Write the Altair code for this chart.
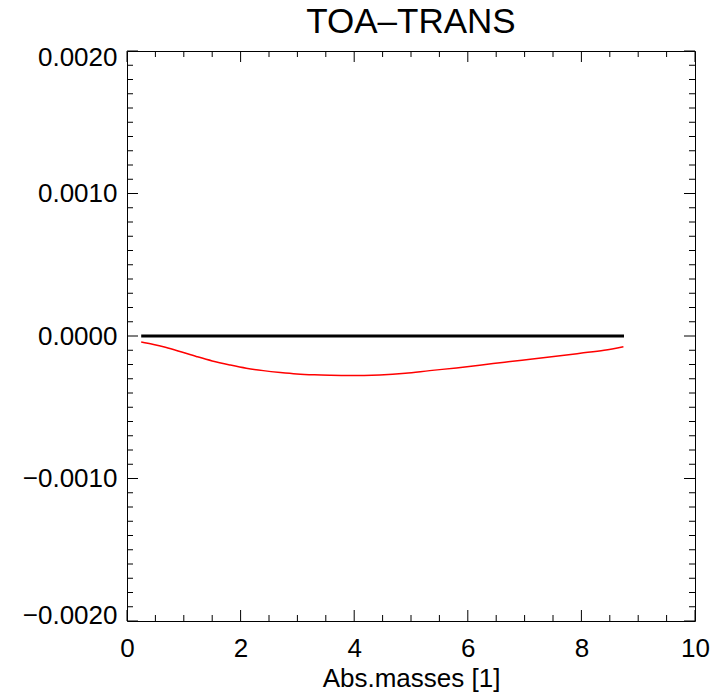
import altair as alt
import pandas as pd

# Top-of-atmosphere transmission difference versus absorber mass
abs_mass = [0.25, 0.45, 0.64, 0.9, 1.23, 1.5, 1.81, 2.1, 2.40, 2.7, 2.99,
            3.3, 3.57, 3.9, 4.45, 4.9, 5.33, 5.8, 6.21, 6.65, 7.1, 7.55,
            7.98, 8.4, 8.74]
toa_trans = [-0.000042, -0.000058, -0.000075, -0.000105, -0.000145,
             -0.000175, -0.000203, -0.000226, -0.000243, -0.000256,
             -0.000266, -0.000272, -0.000275, -0.000277, -0.000273,
             -0.000262, -0.000243, -0.000224, -0.000205, -0.000184,
             -0.000163, -0.000142, -0.000121, -0.000100, -0.000075]

# Reference (zero) line over the same mass range
zero_x = [0.25, 8.75]
zero_y = [0.0, 0.0]

x_major = [0, 2, 4, 6, 8, 10]
x_minor = [0.5, 1, 1.5, 2.5, 3, 3.5, 4.5, 5, 5.5, 6.5, 7, 7.5, 8.5, 9, 9.5]
y_major = [-0.002, -0.001, 0.0, 0.001, 0.002]
y_minor = [round(-0.002 + 0.0001 * i, 4) for i in range(41)
           if i % 10 != 0]

W, H = 568, 570
MAJ, MIN = 11, 6
FONT = "Liberation Sans"

xs = alt.Scale(domain=[0, 10], nice=False, zero=False)
ys = alt.Scale(domain=[-0.002, 0.002], nice=False, zero=False)

curve = pd.DataFrame({"mass": abs_mass, "diff": toa_trans})
zero = pd.DataFrame({"mass": zero_x, "diff": zero_y})

x_axis = alt.Axis(values=x_major, format="d", ticks=False, domain=False,
                  grid=False, labelFont=FONT, labelFontSize=26,
                  labelColor="black", labelPadding=14, labelFlush=False,
                  title="Abs.masses [1]", titleFont=FONT, titleFontSize=26,
                  titleFontWeight="normal", titleColor="black",
                  titlePadding=4)
y_axis = alt.Axis(values=y_major, format=".4f", ticks=False, domain=False,
                  grid=False, labelFont=FONT, labelFontSize=26,
                  labelColor="black", labelPadding=10, labelFlush=True,
                  labelFlushOffset=7, title=None)

base_line = alt.Chart(zero).mark_line(color="black", strokeWidth=3).encode(
    x=alt.X("mass:Q", scale=xs, axis=x_axis),
    y=alt.Y("diff:Q", scale=ys, axis=y_axis),
)
red_line = alt.Chart(curve).mark_line(
    color="#ff0000", strokeWidth=1.5, interpolate="monotone"
).encode(
    x=alt.X("mass:Q", scale=xs),
    y=alt.Y("diff:Q", scale=ys),
)


def xticks(vals, length):
    df = pd.DataFrame({"v": vals})
    bottom = alt.Chart(df).mark_rule(color="black", strokeWidth=1).encode(
        x=alt.X("v:Q", scale=xs), y=alt.value(H), y2=alt.value(H - length))
    top = alt.Chart(df).mark_rule(color="black", strokeWidth=1).encode(
        x=alt.X("v:Q", scale=xs), y=alt.value(0), y2=alt.value(length))
    return [bottom, top]


def yticks(vals, length):
    df = pd.DataFrame({"v": vals})
    left = alt.Chart(df).mark_rule(color="black", strokeWidth=1).encode(
        y=alt.Y("v:Q", scale=ys), x=alt.value(0), x2=alt.value(length))
    right = alt.Chart(df).mark_rule(color="black", strokeWidth=1).encode(
        y=alt.Y("v:Q", scale=ys), x=alt.value(W), x2=alt.value(W - length))
    return [left, right]


layers = ([base_line, red_line] + xticks(x_major, MAJ) + xticks(x_minor, MIN)
          + yticks(y_major, MAJ) + yticks(y_minor, MIN))

chart = alt.layer(*layers).properties(
    width=W,
    height=H,
    title=alt.TitleParams("TOA–TRANS", font=FONT, fontSize=35,
                          fontWeight="normal", color="black",
                          anchor="middle", frame="group",
                          baseline="alphabetic", offset=14, dy=38),
    autosize=alt.AutoSizeParams(type="none"),
    padding={"left": 127, "top": 51, "right": 17, "bottom": 76},
    background="white",
).configure_view(stroke="black", strokeWidth=1)

chart.save("out.html", embed_options={"renderer": "svg", "actions": False})
